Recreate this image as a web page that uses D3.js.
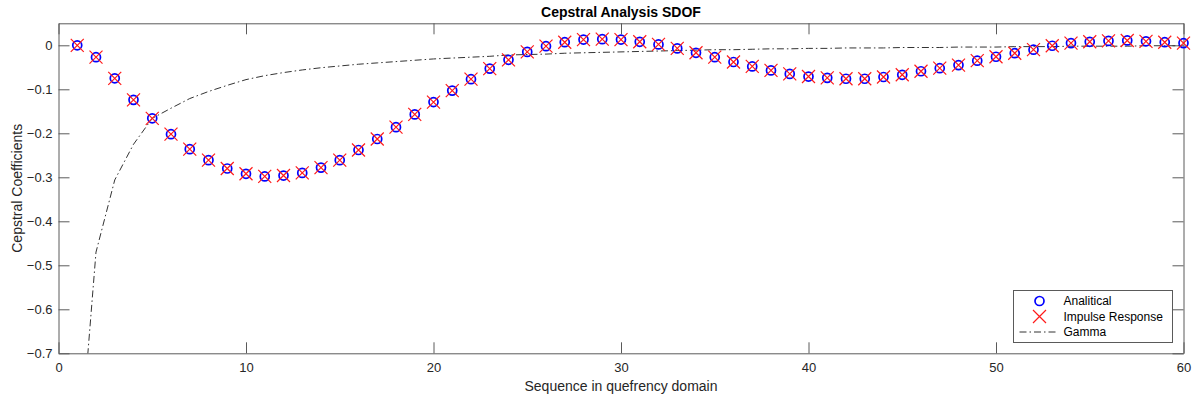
<!DOCTYPE html>
<html>
<head>
<meta charset="utf-8">
<script src="https://cdn.jsdelivr.net/npm/d3@7"></script>
<style>
  body { margin: 0; background: #fff; }
  text { font-family: "Liberation Sans", Arial, Helvetica, sans-serif; }
</style>
</head>
<body>
<div id="chart"></div>
<script>
// quefrency index
var seq = [1,2,3,4,5,6,7,8,9,10,11,12,13,14,15,16,17,18,19,20,
           21,22,23,24,25,26,27,28,29,30,31,32,33,34,35,36,37,38,39,40,
           41,42,43,44,45,46,47,48,49,50,51,52,53,54,55,56,57,58,59,60];

var analytical = [0,-0.027,-0.075,-0.124,-0.166,-0.202,-0.236,-0.261,-0.280,-0.292,
                  -0.298,-0.296,-0.290,-0.278,-0.261,-0.238,-0.213,-0.186,-0.157,-0.129,
                  -0.103,-0.077,-0.053,-0.033,-0.015,-0.002,0.007,0.013,0.014,0.013,
                  0.008,0.002,-0.007,-0.017,-0.027,-0.038,-0.048,-0.057,-0.065,-0.071,
                  -0.074,-0.076,-0.076,-0.072,-0.067,-0.059,-0.052,-0.045,-0.035,-0.026,
                  -0.018,-0.010,-0.001,0.005,0.008,0.010,0.011,0.009,0.007,0.005];

var impulse = [0,-0.027,-0.075,-0.124,-0.166,-0.202,-0.236,-0.261,-0.280,-0.292,
               -0.298,-0.296,-0.290,-0.278,-0.261,-0.238,-0.213,-0.186,-0.157,-0.129,
               -0.103,-0.077,-0.053,-0.033,-0.015,-0.002,0.007,0.013,0.014,0.013,
               0.008,0.002,-0.007,-0.017,-0.027,-0.038,-0.048,-0.057,-0.065,-0.071,
               -0.074,-0.076,-0.076,-0.072,-0.067,-0.059,-0.052,-0.045,-0.035,-0.026,
               -0.018,-0.010,-0.001,0.005,0.008,0.010,0.011,0.009,0.007,0.005];

var gamma = [-1.0,-0.47,-0.306,-0.225,-0.166,-0.143,-0.121,-0.105,-0.091,-0.078,
             -0.069,-0.062,-0.056,-0.051,-0.047,-0.043,-0.040,-0.037,-0.034,-0.031,
             -0.029,-0.027,-0.025,-0.022,-0.021,-0.020,-0.018,-0.017,-0.016,-0.015,
             -0.014,-0.013,-0.012,-0.011,-0.010,-0.010,-0.009,-0.008,-0.008,-0.007,
             -0.007,-0.006,-0.006,-0.006,-0.005,-0.005,-0.005,-0.004,-0.004,-0.004,
             -0.003,-0.003,-0.003,-0.002,-0.002,-0.002,-0.002,-0.001,-0.001,-0.001];

var xTicks = [0,10,20,30,40,50,60];
var yTicks = [-0.7,-0.6,-0.5,-0.4,-0.3,-0.2,-0.1,0];
var legendNames = ["Analitical", "Impulse Response", "Gamma"];

var W = 1192, H = 398;
var margin = {top: 23.3, right: 8.5, bottom: 44.7, left: 58.5},
    width = W - margin.left - margin.right,
    height = H - margin.top - margin.bottom;

var svg = d3.select("#chart").append("svg")
    .attr("width", W)
    .attr("height", H);

var g = svg.append("g")
    .attr("transform", "translate(" + margin.left + "," + margin.top + ")");

var x = d3.scaleLinear().domain([0, 60]).range([0, width]);
var y = d3.scaleLinear().domain([-0.7, 0.05]).range([height, 0]);

var axisColor = "#5a5a5a", labelColor = "#262626";
var blue = "#0000ff", red = "#ff1a1a";

function styleAxis(sel) {
    sel.select(".domain").attr("stroke", axisColor);
    sel.selectAll(".tick line").attr("stroke", axisColor);
    sel.selectAll(".tick text").attr("fill", labelColor)
        .style("font-size", "13px")
        .style("font-family", "'Liberation Sans', Arial, sans-serif");
}

// axes (ticks point inward, like MATLAB)
g.append("g").attr("transform", "translate(0," + height + ")")
    .call(d3.axisBottom(x).tickValues(xTicks).tickSizeInner(-11).tickSizeOuter(0).tickPadding(9))
    .call(styleAxis);
g.append("g")
    .call(d3.axisTop(x).tickValues(xTicks).tickSizeInner(-11).tickSizeOuter(0).tickFormat(""))
    .call(styleAxis);
g.append("g")
    .call(d3.axisLeft(y).tickValues(yTicks).tickSizeInner(-11).tickSizeOuter(0).tickPadding(6)
        .tickFormat(function(d) { return d === 0 ? "0" : d3.format(".1f")(d); }))
    .call(styleAxis);
g.append("g").attr("transform", "translate(" + width + ",0)")
    .call(d3.axisRight(y).tickValues(yTicks).tickSizeInner(-11).tickSizeOuter(0).tickFormat(""))
    .call(styleAxis);

g.append("defs").append("clipPath").attr("id", "clip")
    .append("rect").attr("width", width).attr("height", height);

// gamma line
var line = d3.line()
    .x(function(d, i) { return x(seq[i]); })
    .y(function(d) { return y(d); });

g.append("path")
    .datum(gamma)
    .attr("clip-path", "url(#clip)")
    .attr("d", line)
    .style("fill", "none")
    .style("stroke", "#333")
    .style("stroke-width", 1)
    .style("stroke-dasharray", "7,3,1.5,3");

// analytical circles
g.selectAll(".ana")
    .data(analytical)
    .enter().append("circle")
    .attr("class", "ana")
    .attr("cx", function(d, i) { return x(seq[i]); })
    .attr("cy", function(d) { return y(d); })
    .attr("r", 4.5)
    .style("fill", "none")
    .style("stroke", blue)
    .style("stroke-width", 1.7);

// impulse response crosses
var cs = 6.5;
var crossPath = function(cx, cy) {
    return "M" + (cx - cs) + "," + (cy - cs) + "L" + (cx + cs) + "," + (cy + cs) +
           "M" + (cx - cs) + "," + (cy + cs) + "L" + (cx + cs) + "," + (cy - cs);
};
g.selectAll(".imp")
    .data(impulse)
    .enter().append("path")
    .attr("class", "imp")
    .attr("d", function(d, i) { return crossPath(x(seq[i]), y(d)); })
    .style("fill", "none")
    .style("stroke", red)
    .style("stroke-width", 1.2);

// title and labels
svg.append("text")
    .attr("x", margin.left + width / 2)
    .attr("y", 17)
    .attr("text-anchor", "middle")
    .style("font-size", "14px")
    .style("font-weight", "bold")
    .style("font-family", "'Liberation Sans Narrow', 'Liberation Sans', Arial, sans-serif")
    .attr("fill", "#000")
    .text("Cepstral Analysis SDOF");

svg.append("text")
    .attr("x", margin.left + width / 2)
    .attr("y", 391)
    .attr("text-anchor", "middle")
    .style("font-size", "14px")
    .attr("fill", labelColor)
    .text("Sequence in quefrency domain");

svg.append("text")
    .attr("transform", "translate(22," + (margin.top + height / 2) + ") rotate(-90)")
    .attr("text-anchor", "middle")
    .style("font-size", "14px")
    .attr("fill", labelColor)
    .text("Cepstral Coefficients");

// legend
var lg = svg.append("g").attr("transform", "translate(1013.5,290.5)");
lg.append("rect")
    .attr("width", 159).attr("height", 52)
    .style("fill", "#fff").style("stroke", axisColor).style("stroke-width", 1);

var rowY = [10.5, 26, 41.5];
lg.append("circle").attr("cx", 26).attr("cy", rowY[0]).attr("r", 4.5)
    .style("fill", "none").style("stroke", blue).style("stroke-width", 1.7);
lg.append("path").attr("d", crossPath(26, rowY[1]))
    .style("fill", "none").style("stroke", red).style("stroke-width", 1.2);
lg.append("line").attr("x1", 6).attr("x2", 43).attr("y1", rowY[2]).attr("y2", rowY[2])
    .style("stroke", "#333").style("stroke-width", 1).style("stroke-dasharray", "7,3,1.5,3");

lg.selectAll(".lt")
    .data(legendNames)
    .enter().append("text")
    .attr("class", "lt")
    .attr("x", 50)
    .attr("y", function(d, i) { return rowY[i] + 4; })
    .style("font-size", "12px")
    .attr("fill", "#000")
    .text(function(d) { return d; });
</script>
</body>
</html>
